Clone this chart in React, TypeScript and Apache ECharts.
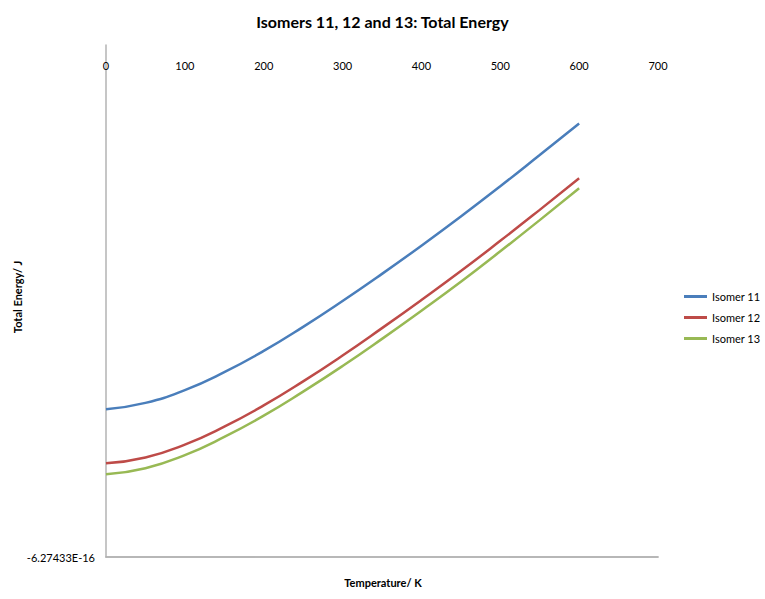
import { useEffect, useRef } from "react";
import * as echarts from "echarts";

// Temperatures in K
const temperatures = [0, 50, 100, 150, 200, 250, 300, 350, 400, 450, 500, 550, 600];

// Total energy, relative units (0 = axis bottom, 100 = axis top)
const isomer11 = [28.85, 30.1, 32.6, 36.1, 40.25, 44.95, 50.0, 55.3, 60.8, 66.5, 72.4, 78.5, 84.67];
const isomer12 = [18.3, 19.45, 21.95, 25.45, 29.6, 34.3, 39.35, 44.7, 50.2, 55.85, 61.75, 67.8, 73.96];
const isomer13 = [16.15, 17.35, 19.9, 23.45, 27.6, 32.3, 37.3, 42.6, 48.1, 53.75, 59.7, 65.8, 72.01];

const seriesNames = ["Isomer 11", "Isomer 12", "Isomer 13"];
const seriesColors = ["#4a7ebb", "#be4b48", "#98b954"];
const yTickLabels = ["-6.27433E-16"];

const FONT = "Lato, 'Open Sans', sans-serif";

export default function App() {
  const chartRef = useRef<HTMLDivElement>(null);

  useEffect(() => {
    if (!chartRef.current) return;
    const chart = echarts.init(chartRef.current, null, { renderer: "svg" });

    const allValues = [isomer11, isomer12, isomer13];

    const option = {
      animation: false,
      backgroundColor: "#ffffff",
      textStyle: { fontFamily: FONT },
      title: {
        text: "Isomers 11, 12 and 13: Total Energy",
        left: "center",
        top: 8,
        textStyle: { fontFamily: FONT, fontSize: 16, fontWeight: "bold", color: "#000" }
      },
      grid: { left: 106, top: 45, width: 552, height: 512 },
      legend: {
        orient: "vertical",
        left: 679,
        top: 286,
        icon: "rect",
        itemWidth: 23,
        itemHeight: 3,
        itemGap: 10,
        data: seriesNames,
        textStyle: { fontFamily: FONT, fontSize: 11, color: "#000" }
      },
      xAxis: [
        {
          type: "value",
          position: "top",
          min: 0,
          max: 700,
          interval: 100,
          axisLine: { show: true, lineStyle: { color: "#b3b3b3", width: 1.5 } },
          axisTick: { show: false },
          splitLine: { show: false },
          axisLabel: {
            inside: true,
            margin: 15,
            fontFamily: FONT,
            fontSize: 11,
            color: "#000"
          }
        },
        {
          type: "value",
          position: "bottom",
          min: 0,
          max: 700,
          axisLine: { show: true, lineStyle: { color: "#b3b3b3", width: 1.5 } },
          axisTick: { show: false },
          axisLabel: { show: false },
          splitLine: { show: false }
        }
      ],
      yAxis: {
        type: "value",
        min: 0,
        max: 100,
        interval: 100,
        axisLine: { show: true, lineStyle: { color: "#b3b3b3", width: 1.5 } },
        axisTick: { show: false },
        splitLine: { show: false },
        axisLabel: {
          margin: 11,
          fontFamily: FONT,
          fontSize: 11,
          color: "#000",
          formatter: (v: number) => (v === 0 ? yTickLabels[0] : "")
        }
      },
      graphic: [
        {
          type: "text",
          x: 383,
          y: 582,
          style: {
            text: "Temperature/ K",
            font: `bold 11px ${FONT}`,
            fill: "#000",
            textAlign: "center",
            textVerticalAlign: "middle"
          }
        },
        {
          type: "text",
          x: 17,
          y: 297,
          rotation: Math.PI / 2,
          style: {
            text: "Total Energy/ J",
            font: `bold 11px ${FONT}`,
            fill: "#000",
            textAlign: "center",
            textVerticalAlign: "middle"
          }
        }
      ],
      series: seriesNames.map((name, i) => ({
        name,
        type: "line",
        xAxisIndex: 0,
        smooth: 0.5,
        symbol: "none",
        data: temperatures.map((t, j) => [t, allValues[i][j]]),
        lineStyle: { color: seriesColors[i], width: 2.5 },
        itemStyle: { color: seriesColors[i] }
      }))
    };

    chart.setOption(option);

    return () => {
      chart.dispose();
    };
  }, []);

  return (
    <div
      ref={chartRef}
      style={{ position: "fixed", left: 0, top: 0, width: "765px", height: "599px" }}
    />
  );
}
